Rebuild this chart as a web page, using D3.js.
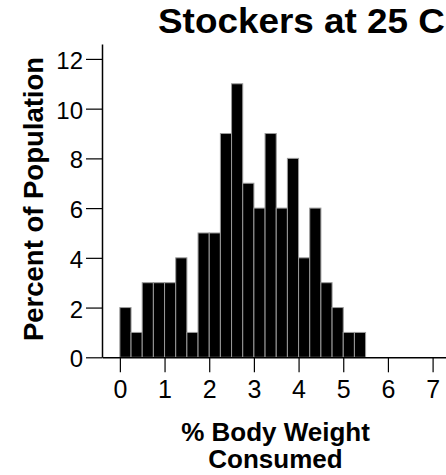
<!DOCTYPE html>
<html><head><meta charset="utf-8">
<script src="https://cdn.jsdelivr.net/npm/d3@7"></script>
<style>body{margin:0;background:#fff;}svg{display:block;}text{font-family:"Liberation Sans",Arial,sans-serif;fill:#000;}</style>
</head><body>
<script>
const title = "Stockers at 25 C";
const xTitleLines = ["% Body Weight", "Consumed"];
const yTitle = "Percent of Population";
const binStart = [0,0.25,0.5,0.75,1,1.25,1.5,1.75,2,2.25,2.5,2.75,3,3.25,3.5,3.75,4,4.25,4.5,4.75,5,5.25];
const binWidth = 0.25;
const percent = [2,1,3,3,3,4,1,5,5,9,11,7,6,9,6,8,4,6,3,2,1,1];
const xTicks = [0,1,2,3,4,5,6,7];
const yTicks = [0,2,4,6,8,10,12];

const W = 446, H = 475;
const svg = d3.select("body").append("svg").attr("width", W).attr("height", H);
const x = d3.scaleLinear().domain([-0.4, 7.3]).range([102, 446]);
const y = d3.scaleLinear().domain([0, 12.6]).range([357.3, 44]);

// bars
svg.append("g").selectAll("rect").data(percent).join("rect")
  .attr("x", (d,i) => x(binStart[i]))
  .attr("width", (d,i) => x(binStart[i] + binWidth) - x(binStart[i]))
  .attr("y", d => y(d))
  .attr("height", d => y(0) - y(d))
  .attr("fill", "#000").attr("stroke", "#9a9a9a").attr("stroke-width", 1);

// y axis
const ya = d3.axisLeft(y).tickValues(yTicks).tickSize(16).tickPadding(3).tickSizeOuter(0);
const gy = svg.append("g").attr("transform", "translate(102,0)").call(ya);
gy.select(".domain").attr("stroke", "#000").attr("stroke-width", 1.5);
gy.selectAll(".tick line").attr("stroke", "#000").attr("stroke-width", 1.2);
gy.selectAll(".tick text").style("font-size", "24px").attr("dy", "0.4em")
  .style("font-family", "Liberation Sans, Arial, sans-serif");

// x axis
const xa = d3.axisBottom(x).tickValues(xTicks).tickSize(15).tickPadding(8).tickSizeOuter(0);
const gx = svg.append("g").attr("transform", "translate(0,357.3)").call(xa);
gx.select(".domain").attr("stroke", "#000").attr("stroke-width", 1.5);
gx.selectAll(".tick line").attr("stroke", "#000").attr("stroke-width", 1.2);
gx.selectAll(".tick text").style("font-size", "25px")
  .style("font-family", "Liberation Sans, Arial, sans-serif");

// titles
svg.append("text").attr("x", 158).attr("y", 33).attr("font-size", 35).attr("font-weight", "bold")
  .attr("textLength", 287).attr("lengthAdjust", "spacingAndGlyphs").text(title);
svg.append("g").selectAll("text").data(xTitleLines).join("text")
  .attr("text-anchor", "middle").attr("font-weight", "bold").attr("font-size", 26)
  .attr("x", 275.5).attr("y", (d,i) => 441 + i*27).text(d => d);
svg.append("text").attr("transform", "translate(43,199) rotate(-90)").attr("text-anchor", "middle")
  .attr("font-weight", "bold").attr("font-size", 27.5).text(yTitle);
</script>
</body></html>
